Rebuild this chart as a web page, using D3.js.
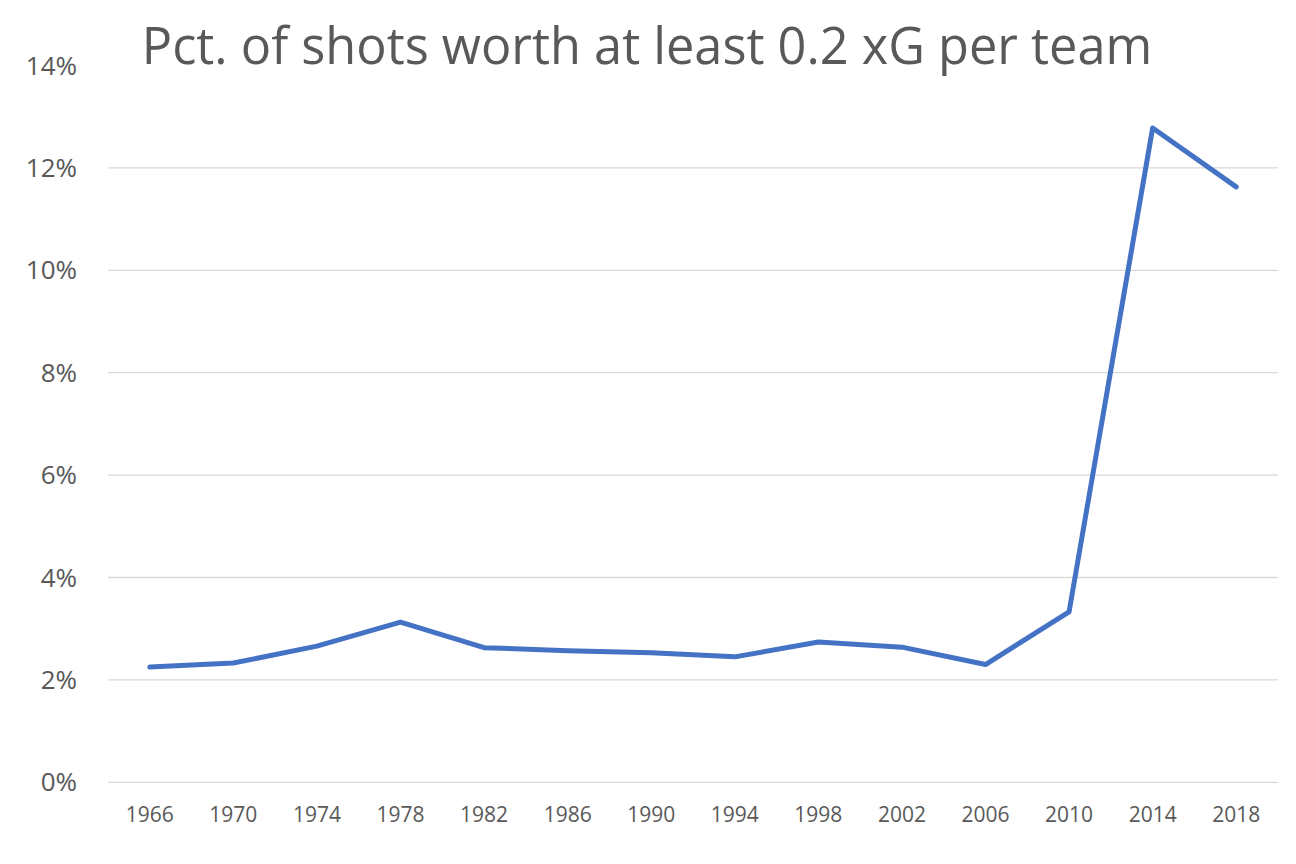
<!DOCTYPE html>
<html><head><meta charset="utf-8">
<script src="https://cdn.jsdelivr.net/npm/d3@7"></script>
<style>body{margin:0;background:#fff;}</style>
</head><body>
<svg id="c" width="1296" height="864"></svg>
<script>
const years = ["1966","1970","1974","1978","1982","1986","1990","1994","1998","2002","2006","2010","2014","2018"];
const values = [2.25,2.33,2.66,3.13,2.63,2.57,2.53,2.45,2.74,2.64,2.30,3.33,12.78,11.63];
const yTicks = [0,2,4,6,8,10,12,14];
const title = "Pct. of shots worth at least 0.2 xG per team";

(function(){
const svg = d3.select("#c");
const mLeft = 108, mRight = 1278, mTop = 65.5, mBottom = 782.3;
const x = d3.scaleBand().domain(years).range([mLeft, mRight]);
const y = d3.scaleLinear().domain([0,14]).range([mBottom, mTop]);
const font = "'Open Sans', 'Liberation Sans', sans-serif";

svg.append("g").selectAll("line").data(yTicks.filter(d => d < 14)).join("line")
  .attr("x1", mLeft).attr("x2", mRight)
  .attr("y1", d => y(d)).attr("y2", d => y(d))
  .attr("stroke", "#d9d9d9").attr("stroke-width", 1.3);

svg.append("g").selectAll("text").data(yTicks).join("text")
  .attr("x", 77).attr("y", d => y(d)).attr("dy", "0.35em")
  .attr("text-anchor", "end").attr("font-family", font).attr("font-size", 26)
  .attr("fill", "#595959").text(d => d + "%");

svg.append("g").selectAll("text").data(years).join("text")
  .attr("x", d => x(d) + x.bandwidth()/2).attr("y", 822)
  .attr("text-anchor", "middle").attr("font-family", font).attr("font-size", 21)
  .attr("fill", "#595959").text(d => d);

const line = d3.line().x((d,i) => x(years[i]) + x.bandwidth()/2).y(d => y(d));
svg.append("path").datum(values).attr("d", line)
  .attr("fill", "none").attr("stroke", "#4472C4").attr("stroke-width", 5)
  .attr("stroke-linejoin", "round").attr("stroke-linecap", "round");

svg.append("text").attr("x", 647).attr("y", 64).attr("text-anchor", "middle")
  .attr("font-family", font).attr("font-size", 50.5).attr("fill", "#595959").text(title);
})();
</script>
</body></html>
